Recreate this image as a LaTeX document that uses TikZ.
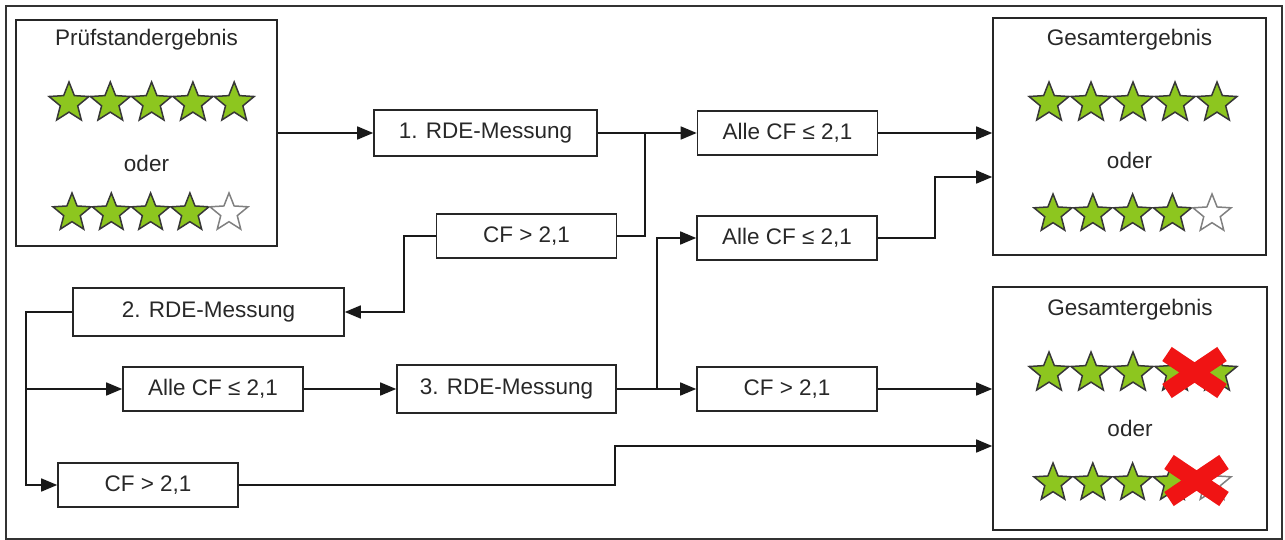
\documentclass[tikz,border=0pt]{standalone}
\usepackage{fontspec}
\setmainfont{Liberation Sans}
\usetikzlibrary{arrows.meta,shapes.geometric}
\definecolor{stargreen}{RGB}{141,198,31}
\definecolor{starline}{RGB}{55,55,55}
\definecolor{txtgray}{RGB}{40,40,40}
\definecolor{crossred}{RGB}{240,20,20}

\begin{document}
\begin{tikzpicture}[x=1pt, y=-1pt, >={Triangle[length=16pt,width=13pt]},
  every node/.style={font=\fontsize{22.5}{26}\selectfont, text=txtgray},
  box/.style={draw=black!85, line width=1.6pt, minimum width=180pt,
    minimum height=44pt, inner sep=0pt},
  group/.style={draw=black!85, line width=1.6pt, inner sep=0pt},
  gstar/.style={star, star points=5, star point ratio=2.3, inner sep=0pt,
    minimum size=42pt, draw=starline, line width=1.5pt, fill=stargreen},
  estar/.style={gstar, draw=gray, fill=white},
  link/.style={line width=1.6pt, draw=black!90},
  cross/.style={line width=17pt, draw=crossred}]
  \useasboundingbox (0,0) rectangle (1285,540);
  \draw[line width=1.2pt, black!80] (6,6) rectangle (1282,539);
  % result boxes
  \node[group, minimum width=261pt, minimum height=226pt] (pruef) at (146.5,133) {};
  \node (pruefT) at (146.5,40) {Prüfstandergebnis};
  \node (pruefO) at (146.5,163) {oder};
  \node[group, minimum width=273pt, minimum height=237pt] (gesTop) at (1129.5,136.5) {};
  \node (gesTopT) at (1129.5,40) {Gesamtergebnis};
  \node (gesTopO) at (1129.5,160) {oder};
  \node[group, minimum width=274pt, minimum height=243pt] (gesBot) at (1130,408.5) {};
  \node (gesBotT) at (1130,310) {Gesamtergebnis};
  \node (gesBotO) at (1130,428) {oder};
  % measurement steps
  \node[box, minimum width=223pt, minimum height=46pt] (rde1) at (485.5,133) {1. RDE-Messung};
  \node[box] (alleTop) at (787.5,133) {Alle CF ≤ 2,1};
  \node[box] (cfUp) at (526.5,236) {CF > 2,1};
  \node[box, minimum width=271pt, minimum height=48pt] (rde2) at (208.5,312) {2. RDE-Messung};
  \node[box] (alleLow) at (213,389) {Alle CF ≤ 2,1};
  \node[box, minimum width=219pt, minimum height=48pt] (rde3) at (506.5,389) {3. RDE-Messung};
  \node[box] (alleMid) at (787,238) {Alle CF ≤ 2,1};
  \node[box] (cfRight) at (787,389) {CF > 2,1};
  \node[box] (cfLow) at (148,485) {CF > 2,1};
  % stars
  \foreach \i in {0,...,4} \node[gstar] (pa\i) at ({69+41.3*\i},103) {};
  \foreach \i in {0,...,3} \node[gstar, minimum size=40pt] (pb\i) at ({72+39.3*\i},213) {};
  \node[estar, minimum size=40pt] (pb4) at (229,213) {};
  \foreach \i in {0,...,4} \node[gstar] (ta\i) at ({1049+42*\i},103) {};
  \foreach \i in {0,...,3} \node[gstar, minimum size=40pt] (tb\i) at ({1053+39.8*\i},214) {};
  \node[estar, minimum size=40pt] (tb4) at (1212,214) {};
  \foreach \i in {0,...,4} \node[gstar] (ba\i) at ({1049+42*\i},373) {};
  \foreach \i in {0,...,3} \node[gstar, minimum size=40pt] (bb\i) at ({1053+39.8*\i},483) {};
  \node[estar, minimum size=40pt] (bb4) at (1212,483) {};
  \draw[cross] (1167,354) -- (1222,391) (1167,391) -- (1222,354);
  \draw[cross] (1169,462) -- (1224,499) (1169,499) -- (1224,462);
  % connectors
  \coordinate (j1) at (645,133);
  \coordinate (j2) at (404,312);
  \coordinate (spine) at (26,312);
  \coordinate (j4) at (657,389);
  \coordinate (j5) at (935,177);
  \coordinate (j6) at (615,446);
  \draw[link,->] (pruef.east) -- (rde1.west);
  \draw[link,->] (rde1.east) -- (alleTop.west);
  \draw[link] (cfUp.east) -| (j1);
  \draw[link,->] (cfUp.west) -| (j2) -- (rde2.east);
  \draw[link,->] (rde2.west) -- (spine) |- (cfLow.west);
  \draw[link,->] (spine |- alleLow) -- (alleLow.west);
  \draw[link,->] (alleLow.east) -- (rde3.west);
  \draw[link,->] (rde3.east) -- (cfRight.west);
  \draw[link,->] (j4) |- (alleMid.west);
  \draw[link,->] (alleTop.east) -- (alleTop -| gesTop.west);
  \draw[link,->] (alleMid.east) -| (j5) -- (j5 -| gesTop.west);
  \draw[link,->] (cfRight.east) -- (cfRight -| gesBot.west);
  \draw[link,->] (cfLow.east) -| (j6) -- (j6 -| gesBot.west);
\end{tikzpicture}
\end{document}
